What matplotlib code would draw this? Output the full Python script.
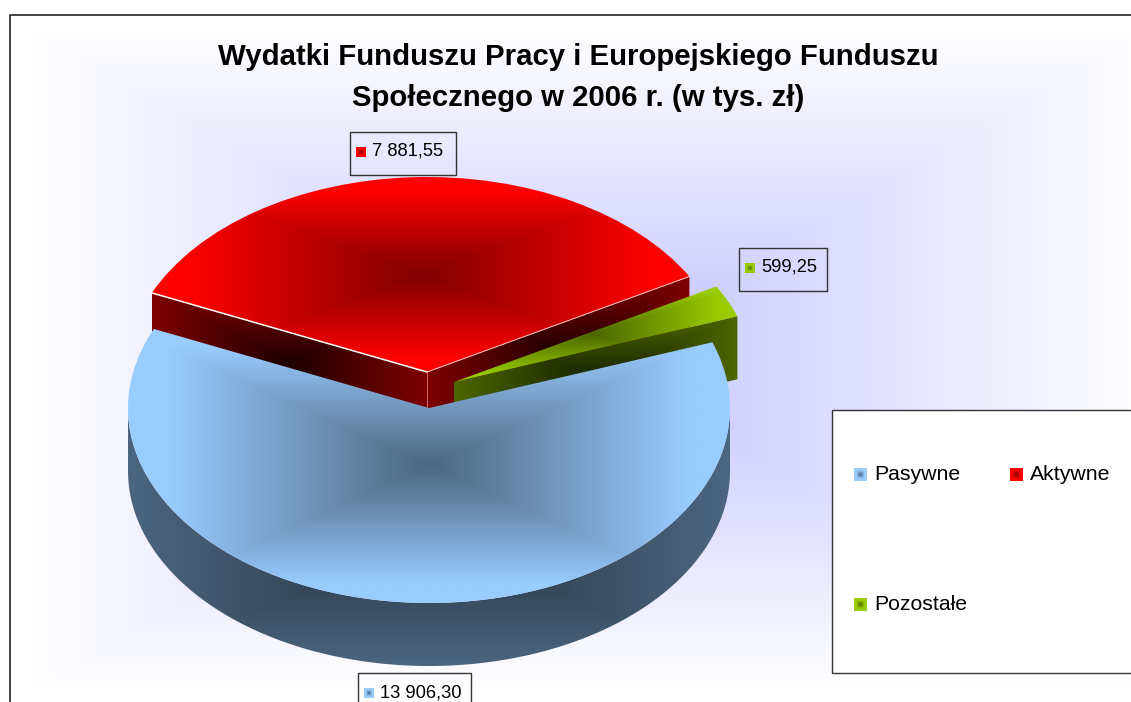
"""
Expenses pie chart, drawn as a fake 3D exploded pie with box gradient fills.
"""

import numpy as np
import matplotlib
matplotlib.use('Agg')
import matplotlib.pyplot as plt
from matplotlib.patches import Polygon, Rectangle

plt.rcParams['font.family'] = ['Liberation Sans', 'DejaVu Sans']

# Chart data
categories = ['Pasywne', 'Aktywne', 'Pozostałe']
values = [13906.30, 7881.55, 599.25]
title_lines = ['Wydatki Funduszu Pracy i Europejskiego Funduszu',
               'Społecznego w 2006 r. (w tys. zł)']

# Colours per slice: top centre, top edge, side centre, side edge
top_dark = [(76, 102, 128), (128, 0, 0), (77, 102, 0)]
top_light = [(153, 204, 255), (255, 0, 0), (153, 204, 0)]
side_dark = [(38, 51, 64), (30, 0, 0), (22, 32, 0)]
side_light = [(76, 102, 128), (128, 0, 0), (77, 102, 0)]

# Figure size and pie placement, in pixels
WIDTH, HEIGHT = 1131, 702
CENTER_X, CENTER_Y = 429, 408
RADIUS_X, RADIUS_Y = 301, 195
DEPTH = 63 / RADIUS_Y
START_ANGLE = 19.7
# How far each slice is moved from the centre, in pie units
slice_offsets = [(0, 0), (-2 / RADIUS_X, 36 / RADIUS_Y), (25 / RADIUS_X, 26 / RADIUS_Y)]


def boxGradient(axis, extent, dark, light, zorder, clip=None, gain=1.0):
    """
    Fill extent with a gradient that runs from dark in the middle to light
    at the border of the box, clipped to a patch if one is given.
    gain > 1 makes the light colour arrive before the border.
    """
    u, v = np.meshgrid(np.linspace(-1, 1, 400), np.linspace(-1, 1, 400))
    t = np.clip(np.maximum(np.abs(u), np.abs(v)) * gain, 0, 1)[..., None]
    pixels = (np.array(dark) + (np.array(light) - np.array(dark)) * t) / 255
    image = axis.imshow(pixels, extent=extent, aspect='auto', zorder=zorder,
                        interpolation='bilinear')
    if clip is not None:
        image.set_clip_path(clip)
    return image


def fillPolygon(axis, points, dark, light, zorder):
    """
    Fill a polygon with a box gradient that fits its bounding box.
    """
    points = np.array(points)
    patch = Polygon(points, closed=True, transform=axis.transData, facecolor='none',
                    edgecolor='none')
    extent = (points[:, 0].min(), points[:, 0].max(), points[:, 1].min(), points[:, 1].max())
    boxGradient(axis, extent, dark, light, zorder, clip=patch)


def arcPoints(center, theta1, theta2):
    angles = np.radians(np.linspace(theta1, theta2, 200))
    return np.column_stack([center[0] + np.cos(angles), center[1] + np.sin(angles)])


def drawTop(axis, wedge, dark, light, zorder):
    """
    Draw the top face of a slice, with the gradient fitted to the visible shape.
    """
    outline = np.vstack([[wedge.center], arcPoints(wedge.center, wedge.theta1, wedge.theta2)])
    extent = (outline[:, 0].min(), outline[:, 0].max(), outline[:, 1].min(), outline[:, 1].max())
    boxGradient(axis, extent, dark, light, zorder, clip=wedge, gain=1.15)


def drawRadialSide(axis, wedge, theta, dark, light, zorder):
    """
    Draw the flat side face between the slice centre and its rim at angle theta.
    """
    cx, cy = wedge.center
    rim = (cx + np.cos(np.radians(theta)), cy + np.sin(np.radians(theta)))
    points = [(cx, cy), rim, (rim[0], rim[1] - DEPTH), (cx, cy - DEPTH)]
    fillPolygon(axis, points, dark, light, zorder)


def drawRimSide(axis, wedge, dark, light, zorder):
    """
    Draw the curved front of the pie (only the lower half of the circle shows).
    """
    arc = arcPoints(wedge.center, 180, 360)
    lower = arc[::-1] - (0, DEPTH)
    fillPolygon(axis, np.vstack([arc, lower]), dark, light, zorder)


def valueLabel(value):
    return f'{value:,.2f}'.replace(',', ' ').replace('.', ',')


def marker(axis, x, y, size, index):
    half = size / 2
    boxGradient(axis, (x - half, x + half, y + half, y - half),
                top_dark[index], top_light[index], 4, gain=1.7)


def drawPie(ax_pie):
    wedges, _ = ax_pie.pie(values, startangle=START_ANGLE, counterclock=False, radius=1)
    for wedge, offset in zip(wedges, slice_offsets):
        wedge.set_center(offset)
        wedge.set_visible(False)
    blue, red, green = wedges

    # Back to front: red slice, green slice, then the big blue one
    drawRadialSide(ax_pie, red, red.theta2, side_dark[1], side_light[1], 1)
    drawRadialSide(ax_pie, red, red.theta1, side_dark[1], side_light[1], 1)
    drawTop(ax_pie, red, top_dark[1], top_light[1], 2)
    drawRadialSide(ax_pie, green, green.theta1, side_dark[2], side_light[2], 3)
    drawTop(ax_pie, green, top_dark[2], top_light[2], 4)
    drawRimSide(ax_pie, blue, side_dark[0], side_light[0], 5)
    drawTop(ax_pie, blue, top_dark[0], top_light[0], 6)

    # Thin light seams on the red slice
    cx, cy = red.center
    left = (cx + np.cos(np.radians(red.theta2)), cy + np.sin(np.radians(red.theta2)))
    right = (cx + np.cos(np.radians(red.theta1)), cy + np.sin(np.radians(red.theta1)))
    ax_pie.plot([left[0], cx], [left[1], cy], color='white', lw=1.1, zorder=2.5)
    ax_pie.plot([right[0], cx], [right[1], cy], color='#ffc8c8', lw=0.7, zorder=2.5)
    ax_pie.plot([cx, cx], [cy, cy - DEPTH], color='#e08080', lw=0.6, zorder=2.5)

    ax_pie.set_aspect('auto')
    ax_pie.set_xlim(-CENTER_X / RADIUS_X, (WIDTH - CENTER_X) / RADIUS_X)
    ax_pie.set_ylim((CENTER_Y - HEIGHT) / RADIUS_Y, CENTER_Y / RADIUS_Y)
    ax_pie.patch.set_visible(False)


def main():
    fig = plt.figure(figsize=(WIDTH / 100, HEIGHT / 100), dpi=100, facecolor='white')
    # Pixel coordinates for the frame, the text and the boxes
    ax = fig.add_axes([0, 0, 1, 1], zorder=0)
    ax_pie = fig.add_axes([0, 0, 1, 1], zorder=1)
    ax.axis('off')

    # Lavender background that fades out towards the edges
    boxGradient(ax, (33, 1147, 690, 28), (195, 195, 255), (255, 255, 255), 0)

    # Outer chart frame, cut off by the image at right and bottom
    ax.plot([10, 10, WIDTH], [HEIGHT, 15, 15], color='#222222', lw=1.2, zorder=3)

    for i, line in enumerate(title_lines):
        ax.text(578, 57 + i * 41, line, ha='center', va='center', fontsize=21.2,
                fontweight='bold', color='black', zorder=5)

    # Value boxes next to the slices
    boxes = [(358, 673, 113, 40), (350, 132, 106, 43), (739, 248, 88, 43)]
    for i, (x, y, w, h) in enumerate(boxes):
        ax.add_patch(Rectangle((x, y), w, h, facecolor='none', edgecolor='#333333', lw=1, zorder=3))
        marker(ax, x + 11, y + 20, 10, i)
        ax.text(x + 22, y + 19.5, valueLabel(values[i]), ha='left', va='center', fontsize=13.2, zorder=5)

    # Legend
    ax.add_patch(Rectangle((832, 410), 320, 263, facecolor='white', edgecolor='#333333', lw=1, zorder=3))
    legend_pos = [(854, 474), (1010, 474), (854, 604)]
    for i, (x, y) in enumerate(legend_pos):
        marker(ax, x + 6, y + 1, 13, i)
        ax.text(x + 20, y, categories[i], ha='left', va='center', fontsize=15.3, zorder=5)

    ax.set_xlim(0, WIDTH)
    ax.set_ylim(HEIGHT, 0)

    drawPie(ax_pie)

    fig.savefig('out.png', dpi=100)


if __name__ == '__main__':
    main()
